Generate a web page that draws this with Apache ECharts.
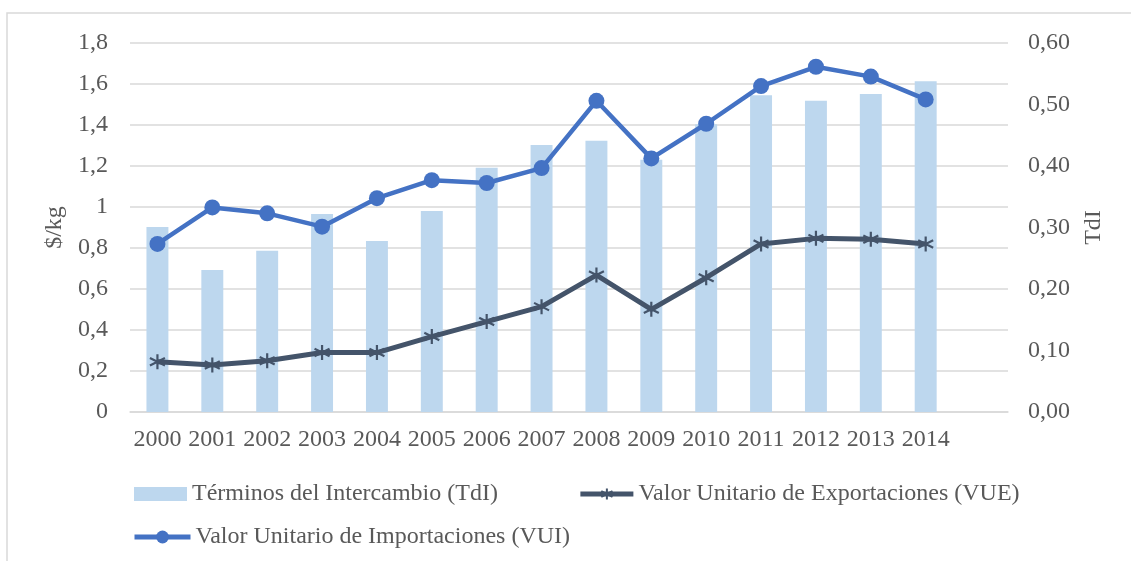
<!DOCTYPE html>
<html>
<head>
<meta charset="utf-8">
<script src="https://cdn.jsdelivr.net/npm/echarts@6/dist/echarts.min.js"></script>
<style>
  html, body { margin: 0; padding: 0; background: #fff; }
  #chart { width: 1131px; height: 561px; }
</style>
</head>
<body>
<div id="chart"></div>
<script>
// Data
const years = ["2000", "2001", "2002", "2003", "2004", "2005", "2006", "2007",
  "2008", "2009", "2010", "2011", "2012", "2013", "2014"];
// Términos del Intercambio (right axis)
const tdi = [0.301, 0.231, 0.262, 0.322, 0.278, 0.327, 0.397, 0.434,
  0.441, 0.410, 0.468, 0.515, 0.506, 0.517, 0.538];
// Valor Unitario de Exportaciones, $/kg
const vue = [0.245, 0.229, 0.250, 0.290, 0.290, 0.368, 0.441, 0.514,
  0.668, 0.501, 0.655, 0.820, 0.847, 0.843, 0.820];
// Valor Unitario de Importaciones, $/kg
const vui = [0.820, 0.998, 0.969, 0.904, 1.043, 1.131, 1.117, 1.190,
  1.518, 1.237, 1.406, 1.590, 1.684, 1.636, 1.525];

const leftTicks = { min: 0, max: 1.8, interval: 0.2 };
const rightTicks = { min: 0, max: 0.6, interval: 0.1 };

const FONT = "'Liberation Serif', 'Times New Roman', serif";
const TEXT = "#595959";
const GRID = "#d9d9d9";
const STAR = "path://M5,0 L5,10 M0.7,2.5 L9.3,7.5 M0.7,7.5 L9.3,2.5";

// Excel leaves an empty slot after the last year
const cats = years.concat([""]);

const chart = echarts.init(document.getElementById("chart"));

const legendText = { fontFamily: FONT, fontSize: 24, color: TEXT };

chart.setOption({
  animation: false,
  textStyle: { fontFamily: FONT, color: TEXT },
  graphic: [{
    type: "rect",
    shape: { x: 7, y: 13, width: 1140, height: 560 },
    style: { fill: "none", stroke: GRID, lineWidth: 1.5 },
    silent: true
  }],
  grid: { left: 130, right: 123, top: 43, bottom: 149 },
  legend: [
    {
      left: 134, top: 482, padding: 0,
      itemWidth: 53, itemHeight: 14, itemGap: 80,
      textStyle: legendText,
      lineStyle: { width: 5 },
      data: [
        { name: "Términos del Intercambio (TdI)", icon: "rect",
          itemStyle: { color: "#bdd7ee" } },
        { name: "Valor Unitario de Exportaciones (VUE)" }
      ]
    },
    {
      left: 132, top: 525, padding: 0,
      itemWidth: 56, itemHeight: 16,
      textStyle: legendText,
      lineStyle: { width: 5 },
      data: ["Valor Unitario de Importaciones (VUI)"]
    }
  ],
  xAxis: {
    type: "category",
    data: cats,
    boundaryGap: true,
    axisLine: { lineStyle: { color: GRID, width: 1.5 } },
    axisTick: { show: false },
    axisLabel: { interval: 0, margin: 16, fontSize: 24, color: TEXT, fontFamily: FONT }
  },
  yAxis: [
    {
      type: "value",
      min: leftTicks.min, max: leftTicks.max, interval: leftTicks.interval,
      name: "$/kg",
      nameLocation: "middle",
      nameRotate: 90,
      nameGap: 58,
      nameTextStyle: { fontSize: 24, color: TEXT, fontFamily: FONT },
      axisLine: { show: false },
      axisTick: { show: false },
      axisLabel: {
        margin: 22, fontSize: 24, color: TEXT, fontFamily: FONT,
        formatter: (v) => String(Math.round(v * 10) / 10).replace(".", ",")
      },
      splitLine: { lineStyle: { color: GRID, width: 1.5 } }
    },
    {
      type: "value",
      position: "right",
      min: rightTicks.min, max: rightTicks.max, interval: rightTicks.interval,
      name: "TdI",
      nameLocation: "middle",
      nameRotate: 90,
      nameGap: 74,
      nameTextStyle: { fontSize: 24, color: TEXT, fontFamily: FONT },
      axisLine: { show: false },
      axisTick: { show: false },
      axisLabel: {
        margin: 20, fontSize: 24, color: TEXT, fontFamily: FONT,
        formatter: (v) => v.toFixed(2).replace(".", ",")
      },
      splitLine: { show: false }
    }
  ],
  series: [
    {
      name: "Términos del Intercambio (TdI)",
      type: "bar",
      yAxisIndex: 1,
      data: tdi,
      barWidth: "40%",
      itemStyle: { color: "#bdd7ee" }
    },
    {
      name: "Valor Unitario de Exportaciones (VUE)",
      type: "line",
      data: vue,
      symbol: STAR,
      symbolSize: 15,
      itemStyle: { color: "#44546a", borderColor: "#44546a", borderWidth: 2.2 },
      lineStyle: { color: "#44546a", width: 5 },
      z: 3
    },
    {
      name: "Valor Unitario de Importaciones (VUI)",
      type: "line",
      data: vui,
      symbol: "circle",
      symbolSize: 16,
      itemStyle: { color: "#4472c4" },
      lineStyle: { color: "#4472c4", width: 4.5 },
      z: 4
    }
  ]
});
</script>
</body>
</html>
